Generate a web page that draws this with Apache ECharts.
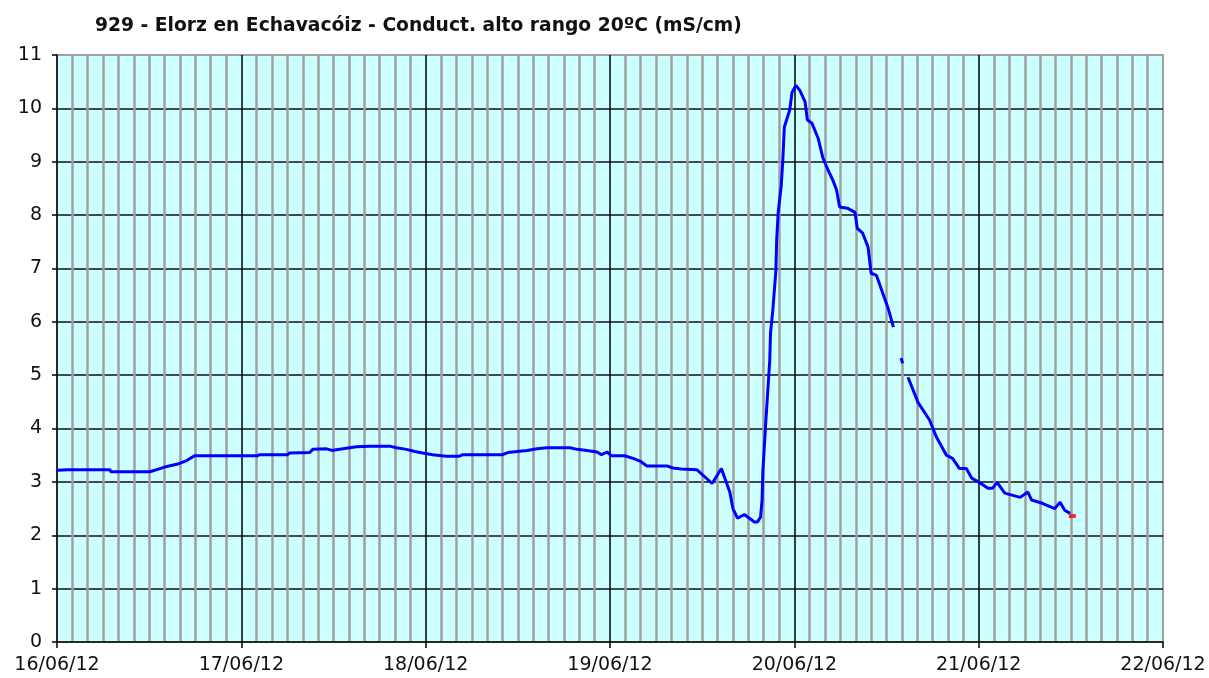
<!DOCTYPE html>
<html>
<head>
<meta charset="utf-8">
<title>929 - Elorz en Echavacóiz</title>
<script src="https://cdn.jsdelivr.net/npm/echarts@6/dist/echarts.min.js"></script>
<style>
  html, body { margin: 0; padding: 0; background: #fff; }
  #chart { width: 1209px; height: 678px; }
</style>
</head>
<body>
<div id="chart"></div>
<script>
// horas desde el 16/06/12 00:00
const hours = [
  0, 1.4, 6.9, 7.0, 12.1, 12.3, 13.4, 14.3, 15.6, 16.9, 17.9, 26.1, 26.4, 30.0, 30.3,
  32.9, 33.3, 35.1, 35.8, 37.2, 39.0, 40.7, 43.3, 44.2, 45.5, 46.6, 47.6, 48.9, 50.7,
  52.4, 52.8, 58.0, 58.7, 59.3, 61.2, 62.5, 63.8, 66.8, 67.7, 69.0, 70.3, 70.9, 71.6,
  72.2, 73.9, 75.0, 75.9, 76.8, 79.4, 80.2, 81.3, 83.3, 85.3, 86.5, 87.6, 88.0, 88.6,
  89.5, 90.8, 91.2, 91.6, 91.8, 91.9, 92.3, 92.8, 92.9, 93.2, 93.6, 93.7, 93.9, 94.3,
  94.5, 94.7, 95.4, 95.7, 96.2, 96.7, 97.4, 97.7, 98.3, 99.1, 99.7, 100.4, 101.0, 101.5,
  101.9, 102.9, 103.9, 104.2, 104.9, 105.6, 106.0, 106.7, 107.5, 108.2, 108.9, 109.4,
  109.9, 110.1, 110.5, 110.8, 112.1, 113.6, 114.5, 115.8, 116.6, 117.5, 118.4, 119.1,
  120.1, 121.2, 121.8, 122.4, 123.4, 125.4, 126.4, 126.9, 128.3, 129.9, 130.6, 131.2, 131.9
];
// conductividad (mS/cm)
const conduct = [
  3.22, 3.23, 3.23, 3.19, 3.19, 3.22, 3.25, 3.29, 3.33, 3.40, 3.49, 3.49, 3.51, 3.51, 3.54,
  3.55, 3.61, 3.62, 3.59, 3.62, 3.66, 3.67, 3.67, 3.64, 3.61, 3.57, 3.54, 3.51, 3.48,
  3.48, 3.51, 3.51, 3.55, 3.56, 3.59, 3.62, 3.64, 3.64, 3.61, 3.59, 3.56, 3.51, 3.56,
  3.49, 3.49, 3.44, 3.39, 3.30, 3.30, 3.26, 3.24, 3.23, 2.97, 3.25, 2.81, 2.50, 2.32,
  2.39, 2.25, 2.25, 2.34, 2.66, 3.19, 4.16, 5.28, 5.79, 6.22, 6.97, 7.53, 8.05, 8.56,
  9.03, 9.65, 9.97, 10.30, 10.43, 10.34, 10.12, 9.78, 9.72, 9.44, 9.08, 8.84, 8.66, 8.47,
  8.15, 8.13, 8.05, 7.75, 7.66, 7.40, 6.91, 6.87, 6.54, 6.26, 5.90, null,
  5.32, 5.22, null, 4.96, 4.49, 4.16, 3.84, 3.50, 3.44, 3.25, 3.25, 3.07,
  2.99, 2.88, 2.88, 2.99, 2.79, 2.71, 2.81, 2.66, 2.60, 2.50, 2.62, 2.47, 2.41
];
// último valor (en rojo)
const lastHour = [132.2];
const lastValue = [2.36];

const dayLabels = ['16/06/12', '17/06/12', '18/06/12', '19/06/12', '20/06/12', '21/06/12', '22/06/12'];

const lineData = hours.map((h, i) => [h, conduct[i] === null ? '-' : conduct[i]]);
const lastData = lastHour.map((h, i) => [h, lastValue[i]]);

const chart = echarts.init(document.getElementById('chart'));
const option = {
  animation: false,
  title: {
    text: '929 - Elorz en Echavacóiz - Conduct. alto rango 20ºC (mS/cm)',
    left: 90,
    top: 12,
    textStyle: { fontFamily: 'DejaVu Sans', fontWeight: 'bold', fontSize: 18.7, color: '#111' }
  },
  grid: {
    left: 57, right: 46, top: 55, bottom: 36,
    show: true,
    backgroundColor: '#ccffff',
    borderColor: '#a0a0a0',
    borderWidth: 2
  },
  xAxis: {
    type: 'value',
    min: 0,
    max: 144,
    interval: 24,
    axisLine: { show: true, onZero: false, lineStyle: { color: '#000', width: 1.5 } },
    axisTick: { show: true, length: 6, lineStyle: { color: '#000', width: 1.5 } },
    axisLabel: {
      margin: 14,
      fontFamily: 'DejaVu Sans',
      fontSize: 19,
      color: '#111',
      formatter: v => dayLabels[Math.round(v / 24)]
    },
    splitLine: { show: true, showMinLine: false, showMaxLine: false, lineStyle: { color: '#000', width: 1.5 } },
    minorTick: { show: false, splitNumber: 12 },
    minorSplitLine: { show: true, lineStyle: { color: '#a0a0a0', width: 2.5 } }
  },
  yAxis: {
    type: 'value',
    min: 0,
    max: 11,
    interval: 1,
    axisLine: { show: true, lineStyle: { color: '#000', width: 1.5 } },
    axisTick: { show: true, length: 5, lineStyle: { color: '#000', width: 1.5 } },
    axisLabel: { margin: 15, fontFamily: 'DejaVu Sans', fontSize: 19, color: '#111' },
    splitLine: { show: true, showMinLine: false, showMaxLine: false, lineStyle: { color: '#111', width: 1.5 } }
  },
  series: [
    {
      name: 'Conductividad',
      type: 'line',
      data: lineData,
      showSymbol: false,
      connectNulls: false,
      lineStyle: { color: '#0000ff', width: 3 },
      z: 3
    },
    {
      name: 'Último',
      type: 'scatter',
      data: lastData,
      symbol: 'rect',
      symbolSize: [7, 4],
      itemStyle: { color: '#ff0000' },
      z: 4
    }
  ]
};
chart.setOption(option);
window.addEventListener('resize', () => {
  chart.resize();
});
</script>
</body>
</html>
